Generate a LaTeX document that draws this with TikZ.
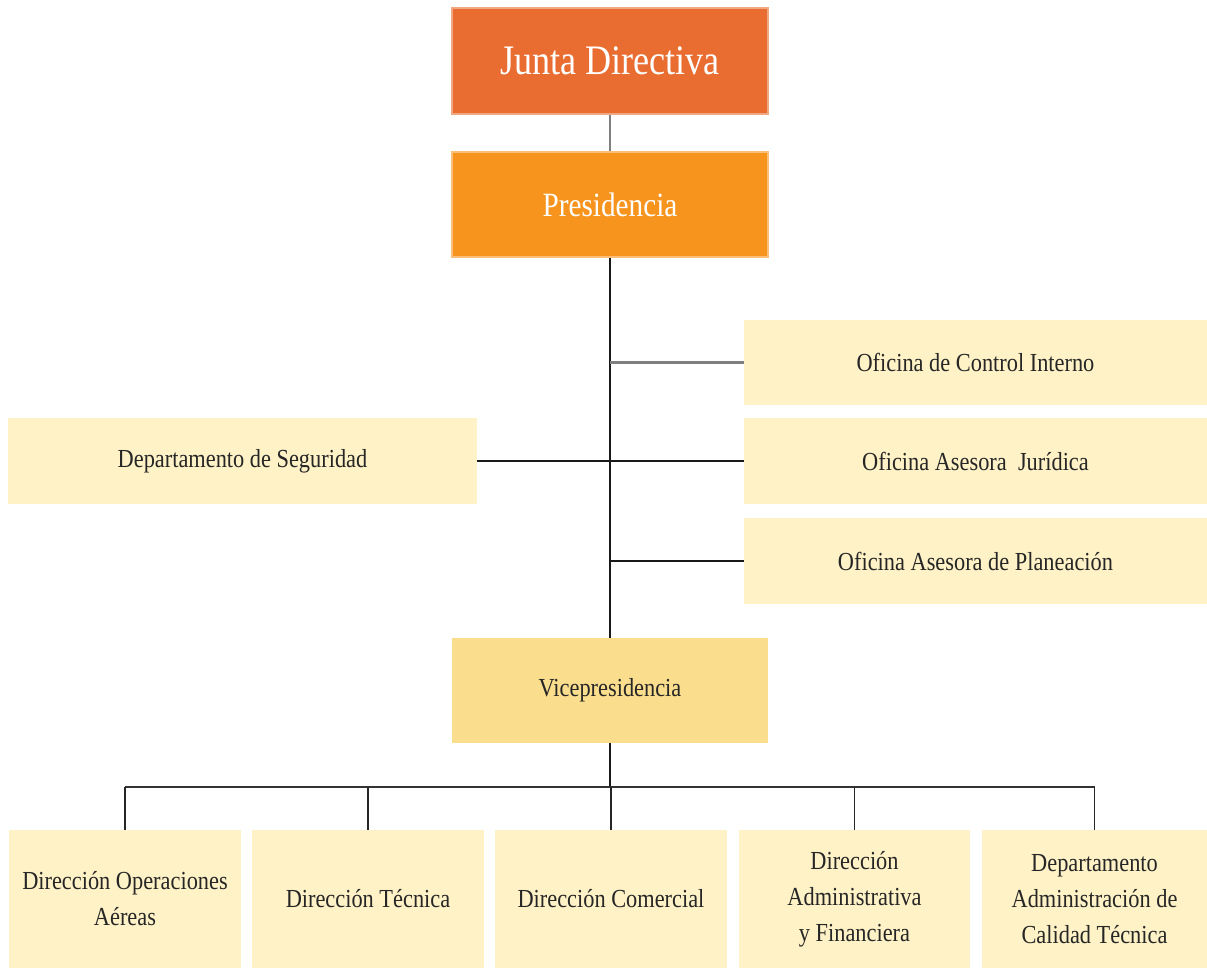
\documentclass[tikz,border=0pt]{standalone}
\usepackage{fontspec}
\setmainfont{Liberation Serif}[FakeStretch=0.86]
\definecolor{juntaC}{HTML}{E96C30}
\definecolor{presC}{HTML}{F7941E}
\definecolor{viceC}{HTML}{FADE8E}
\definecolor{creamC}{HTML}{FFF2C6}
\definecolor{txtC}{HTML}{262626}
\definecolor{lineG}{HTML}{7F7F7F}
\begin{document}
\begin{tikzpicture}[x=1pt,y=-1pt,
  box/.style={rectangle, inner sep=0pt, align=center, text=txtC,
    font=\fontsize{26}{36}\selectfont},
  creambox/.style={box, fill=creamC},
  topbox/.style={box, text=white, draw=white!60!juntaC, line width=1.2pt},
  conn/.style={line width=1.6pt, draw=black!90},
  conng/.style={line width=2.2pt, draw=lineG}]
\useasboundingbox (0,0) rectangle (1207,969);
% top
\node[topbox, fill=juntaC, draw=juntaC!60!white, minimum width=316, minimum height=106,
  font=\fontsize{42}{48}\selectfont] (junta) at (610,61) {Junta Directiva};
\node[topbox, fill=presC, draw=presC!60!white, minimum width=316, minimum height=105,
  font=\fontsize{34}{40}\selectfont] (pres) at (610,204.5) {Presidencia};
% staff
\node[creambox, minimum width=463, minimum height=85] (ctrl) at (975.5,362.5) {Oficina de Control Interno};
\node[creambox, minimum width=463, minimum height=86] (jur) at (975.5,461) {Oficina Asesora~ Jurídica};
\node[creambox, minimum width=463, minimum height=86] (plan) at (975.5,561) {Oficina Asesora de Planeación};
\node[creambox, minimum width=469, minimum height=86] (seg) at (242.5,461) {Departamento de Seguridad};
% vice
\node[box, fill=viceC, minimum width=316, minimum height=105] (vice) at (610,690.5) {Vicepresidencia};
% bottom
\node[creambox, minimum width=232, minimum height=138] (b1) at (125,899) {Dirección Operaciones\\Aéreas};
\node[creambox, minimum width=232, minimum height=138] (b2) at (368,899) {Dirección Técnica};
\node[creambox, minimum width=232, minimum height=138] (b3) at (611,899) {Dirección Comercial};
\node[creambox, minimum width=231, minimum height=138] (b4) at (854.5,899) {Dirección\\Administrativa\\y Financiera};
\node[creambox, minimum width=225, minimum height=138] (b5) at (1094.5,899) {Departamento\\Administración de\\Calidad Técnica};
% connectors
\coordinate (bus) at (610,787);
\draw[conng] (junta.south) -- (pres.south |- junta.south) -- (pres.north);
\draw[conn] (pres.south) -- (vice.north);
\draw[conng] (pres.south |- ctrl.west) -- (ctrl.west);
\draw[conn] (seg.east) -- (jur.west);
\draw[conn] (pres.south |- plan.west) -- (plan.west);
\draw[conn] (vice.south) -- (bus);
\draw[conn, draw=black!80] (b1.north |- bus) -- (b5.north |- bus);
\foreach \b in {b1,b2,b3,b4,b5}{
  \draw[line width=1.4pt, draw=black!85] (\b.north |- bus) -- (\b.north);
}
\end{tikzpicture}
\end{document}
